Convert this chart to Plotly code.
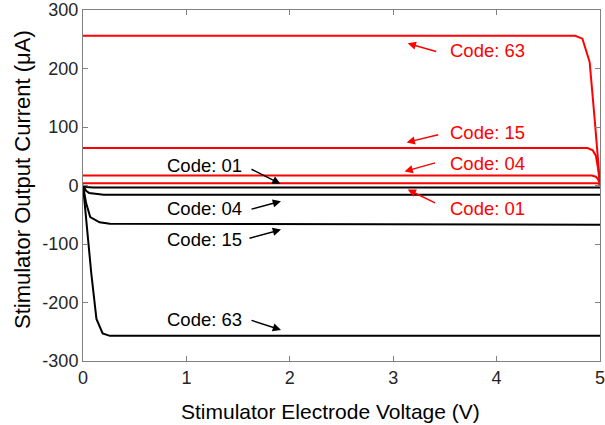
import plotly.graph_objects as go

# ---------------- data ----------------
red63_v = [0, 4.76, 4.83, 4.90, 4.95, 5.0]
red63_i = [256, 256, 251, 211, 110, 3]

red15_v = [0, 4.88, 4.93, 4.96, 4.98, 5.0]
red15_i = [64, 64, 60, 51, 30, 3]

red04_v = [0, 4.92, 4.96, 4.98, 5.0]
red04_i = [17, 17, 15, 11, 3]

red01_v = [0, 4.97, 5.0]
red01_i = [4, 4, 2]

blk63_v = [0, 0.02, 0.05, 0.08, 0.13, 0.19, 0.26, 5.0]
blk63_i = [0, -40, -95, -150, -228, -253, -257, -257]

blk15_v = [0, 0.03, 0.07, 0.16, 0.26, 3.3, 5.0]
blk15_i = [0, -30, -54, -63, -65.5, -66, -67]

blk04_v = [0, 0.03, 0.06, 0.2, 5.0]
blk04_i = [0, -9, -13, -16, -16]

blk01_v = [0, 0.03, 0.1, 5.0]
blk01_i = [0, -2.5, -3.5, -3.5]

x_ticks = [0, 1, 2, 3, 4, 5]
x_tick_labels = ["0", "1", "2", "3", "4", "5"]
y_ticks = [-300, -200, -100, 0, 100, 200, 300]
y_tick_labels = ["-300", "-200", "-100", "0", "100", "200", "300"]

x_title = "Stimulator Electrode Voltage (V)"
y_title = "Stimulator Output Current (μA)"

RED = "#ff0000"
BLK = "#000000"
FONT = "Liberation Sans, Arial, sans-serif"

fig = go.Figure()
for v, i, c in [
    (red63_v, red63_i, RED), (red15_v, red15_i, RED),
    (red04_v, red04_i, RED), (red01_v, red01_i, RED),
    (blk01_v, blk01_i, BLK), (blk04_v, blk04_i, BLK),
    (blk15_v, blk15_i, BLK), (blk63_v, blk63_i, BLK),
]:
    fig.add_trace(go.Scatter(x=v, y=i, mode="lines",
                             line=dict(color=c, width=2), showlegend=False,
                             hoverinfo="skip", cliponaxis=False))

# labels: (text, x_text, y_text, tail_x, tail_y, head_x, head_y, colour)
labels = [
    ("Code: 63", 3.53, 231, 3.43, 228.5, 3.14, 243, RED),
    ("Code: 15", 3.53, 91, 3.45, 87.4, 3.13, 73.7, RED),
    ("Code: 04", 3.53, 37.7, 3.42, 39.4, 3.11, 24, RED),
    ("Code: 01", 3.53, -39.4, 3.42, -30.9, 3.14, -6.9, RED),
    ("Code: 01", 0.79, 34.3, 1.615, 29.1, 1.91, 2.9, BLK),
    ("Code: 04", 0.79, -39.4, 1.615, -41.1, 1.915, -26.9, BLK),
    ("Code: 15", 0.79, -92.6, 1.596, -90.9, 1.915, -75.4, BLK),
    ("Code: 63", 0.79, -229.7, 1.615, -229.7, 1.915, -246.9, BLK),
]
for txt, tx, ty, ax, ay, hx, hy, c in labels:
    fig.add_annotation(x=tx, y=ty, xref="x", yref="y", text=txt,
                       showarrow=False, xanchor="left", yanchor="middle",
                       font=dict(family=FONT, size=18.5, color=c))
    fig.add_annotation(x=hx, y=hy, ax=ax, ay=ay, xref="x", yref="y",
                       axref="x", ayref="y", text="", showarrow=True,
                       arrowhead=2, arrowsize=1.1, arrowwidth=1.5,
                       arrowcolor=c, standoff=0, startstandoff=0)

# axis titles
fig.add_annotation(x=0.478, y=-0.1425, xref="paper", yref="paper",
                   text=x_title, showarrow=False, xanchor="center",
                   yanchor="middle",
                   font=dict(family=FONT, size=21, color="#000000"))
fig.add_annotation(x=-0.118, y=0.5185, xref="paper", yref="paper",
                   text=y_title, showarrow=False, xanchor="center",
                   yanchor="middle", textangle=-90,
                   font=dict(family=FONT, size=22, color="#000000"))

axis_common = dict(
    showgrid=False, zeroline=False, showline=True, linecolor="#808080",
    linewidth=1, mirror="ticks", ticks="inside", ticklen=5,
    tickcolor="#808080", tickwidth=1, automargin=False,
    ticklabeloverflow="allow",
    tickfont=dict(family=FONT, size=18, color="#262626"),
)
fig.update_xaxes(range=[0, 5], tickvals=x_ticks, ticktext=x_tick_labels,
                 **axis_common)
fig.update_yaxes(range=[-300, 300], tickvals=y_ticks, ticktext=y_tick_labels,
                 **axis_common)

fig.update_layout(width=605, height=425,
                  margin=dict(l=83, r=5, t=10, b=64),
                  plot_bgcolor="white", paper_bgcolor="white")

# remove the browser's default 8px body margin so the figure fills the window
fig.write_html("out.html",
               config={"displayModeBar": False},
               post_script="document.body.style.margin='0';"
                           "document.body.style.overflow='hidden';")
